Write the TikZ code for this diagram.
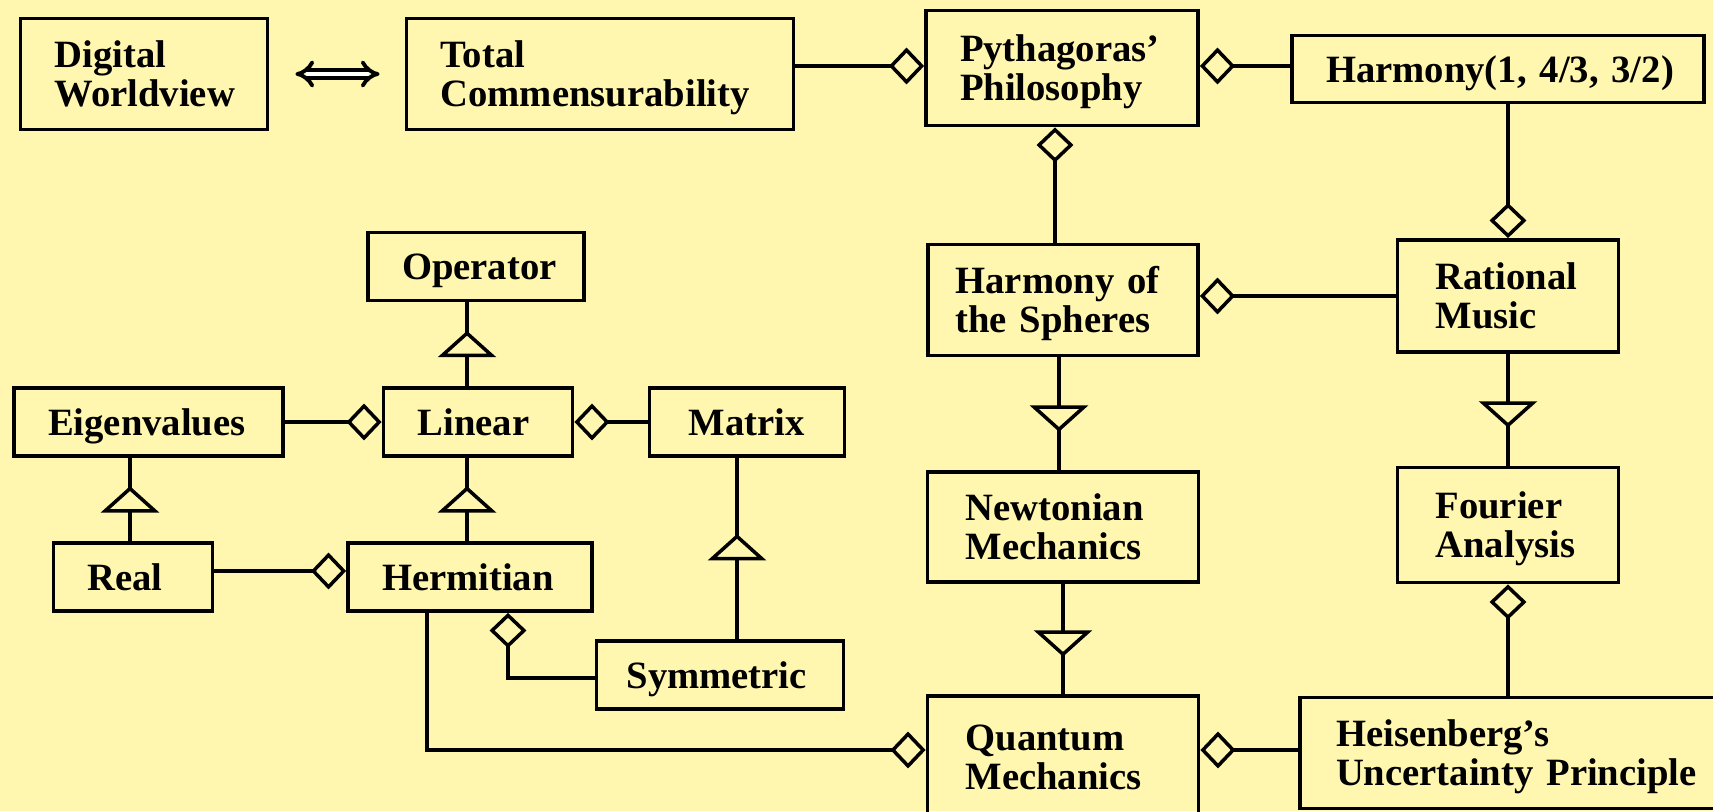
\documentclass[tikz,border=0pt]{standalone}
\usepackage{fontspec}
\setmainfont{Liberation Serif}
\usetikzlibrary{arrows.meta,decorations.markings}
\definecolor{paper}{RGB}{255,247,176}
\begin{document}
\begin{tikzpicture}[x=0.02cm, y=-0.02cm,
  cls/.style={draw, line width=2.2pt, align=left, inner xsep=0.68cm, inner ysep=0pt, text height=15pt, font=\bfseries\fontsize{22}{22.5}\selectfont},
  one/.style={cls, minimum height=1.36cm, text depth=0pt},
  two/.style={cls, minimum height=2.22cm, text depth=22.5pt},
  link/.style={line width=2pt},
  agg/.style={link, -{Diamond[fill=paper, length=20pt, width=21pt]}},
  gen/.style={link, postaction={decorate}, decoration={markings, mark=at position #1 with {\arrow{Triangle[fill=paper, length=15pt, width=33pt]}}}},
  gen/.default=0.66]
\fill[paper] (0,0) rectangle (1713,811);
\useasboundingbox (0,0) rectangle (1713,811);
\node[two, text width=3.58cm] (dw) at (144,74) {Digital\\Worldview};
\node[two, text width=6.38cm] (tc) at (600,74) {Total\\Commensurability};
\node[two, text width=4.08cm, minimum height=2.3cm] (pp) at (1062,68) {Pythagoras’\\Philosophy};
\node[one, text width=6.88cm, minimum height=1.34cm] (hm) at (1498,69) {Harmony(1,~4/3,~3/2)};
\node[two, text width=4.3cm, inner xsep=0.55cm] (hs) at (1063,300) {Harmony~of\\the Spheres};
\node[two, text width=2.9cm, minimum height=2.24cm, inner xsep=0.76cm] (rm) at (1508,296) {Rational\\Music};
\node[two, text width=3.9cm, minimum height=2.2cm, inner xsep=0.76cm] (nm) at (1063,527) {Newtonian\\Mechanics};
\node[two, text width=2.9cm, minimum height=2.3cm, inner xsep=0.76cm] (fa) at (1508,525) {Fourier\\Analysis};
\node[two, text width=3.9cm, minimum height=2.44cm, inner xsep=0.76cm] (qm) at (1063,757) {Quantum\\Mechanics};
\node[two, text width=8cm, inner xsep=0.72cm] (hu) at (1536,753) {Heisenberg’s\\Uncertainty~Principle};
\node[one, text width=2.96cm] (op) at (476,266.5) {Operator};
\node[one, text width=2.42cm] (li) at (478,422) {Linear};
\node[one, text width=4.02cm] (ev) at (148.5,422) {Eigenvalues};
\node[one, text width=2.34cm, inner xsep=0.78cm] (mx) at (747,422) {Matrix};
\node[one, text width=1.82cm] (re) at (133,577) {Real};
\node[one, text width=3.52cm] (he) at (470,577) {Hermitian};
\node[one, text width=3.74cm, inner xsep=0.6cm] (sy) at (720,675) {Symmetric};
\draw[double, double distance=2.8pt, line width=2.2pt, {Implies}-{Implies}, shorten <=0.52cm, shorten >=0.5cm] (dw) -- (tc);
\draw[agg] (tc.east |- 0,66) -- (pp.west |- 0,66);
\draw[agg] (hm.west |- 0,66) -- (pp.east |- 0,66);
\draw[agg] (hs.north -| 1055,0) -- (pp.south -| 1055,0);
\draw[agg] (hm.south -| rm.north) -- (rm.north);
\draw[agg] (rm.west) -- (hs.east |- rm.west);
\draw[agg] (hu.north -| fa.south) -- (fa.south);
\draw[agg] (hu.west |- 0,750) -- (qm.east |- 0,750);
\draw[agg] (he.south -| 427,0) |- (qm.west |- 0,750);
\draw[agg] (ev.east) -- (li.west);
\draw[agg] (mx.west) -- (li.east);
\draw[agg] (re.east |- 0,571) -- (he.west |- 0,571);
\draw[agg] (sy.west |- 0,678) -| (he.south -| 508,0);
\draw[gen] (li.north -| 467,0) -- (op.south -| 467,0);
\draw[gen] (he.north -| 467,0) -- (li.south -| 467,0);
\draw[gen] (re.north -| 130,0) -- (ev.south -| 130,0);
\draw[gen=0.58] (sy.north -| 737,0) -- (mx.south -| 737,0);
\draw[gen] (hs.south -| 1059,0) -- (nm.north -| 1059,0);
\draw[gen] (rm.south) -- (fa.north);
\draw[gen] (nm.south) -- (qm.north);
\end{tikzpicture}
\end{document}
